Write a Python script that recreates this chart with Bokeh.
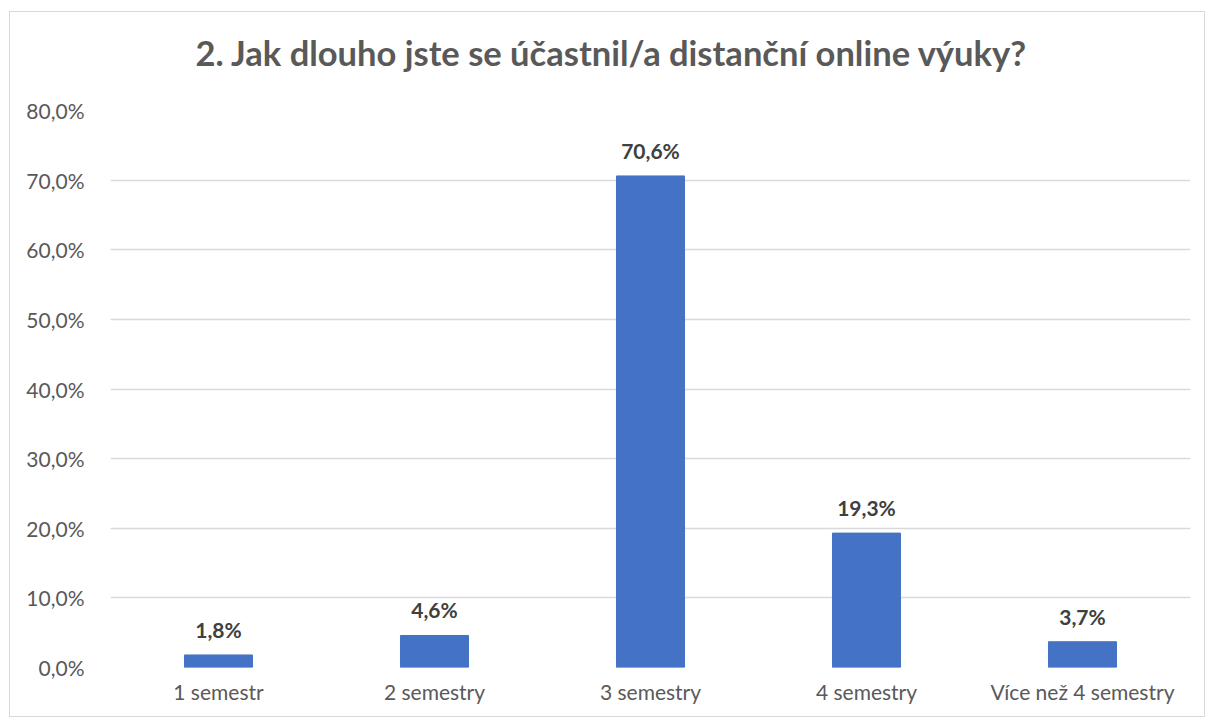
from bokeh.plotting import figure
from bokeh.models import ColumnDataSource, Range1d, CustomJSTickFormatter, SingleIntervalTicker, Title
from bokeh.core.properties import value
from bokeh.embed import file_html
from bokeh.resources import INLINE

categories = ["1 semestr", "2 semestry", "3 semestry", "4 semestry", "Více než 4 semestry"]
values = [1.8, 4.6, 70.6, 19.3, 3.7]
labels = ["1,8%", "4,6%", "70,6%", "19,3%", "3,7%"]
title_text = "2. Jak dlouho jste se účastnil/a distanční online výuky?"

FONT = "Lato"
GRAY = "#595959"

src = ColumnDataSource(dict(cat=categories, val=values, lab=labels))

p = figure(x_range=categories, y_range=Range1d(0, 80), width=1196, height=706,
           output_backend="svg", toolbar_location=None, title=title_text,
           min_border_left=100, min_border_right=16, min_border_top=98, min_border_bottom=51,
           styles={"border": "1px solid #d9d9d9", "margin-left": "9px", "margin-top": "11px"})

p.vbar(x="cat", top="val", width=0.315, source=src, color="#4472C4", line_color="#4472C4")
p.text(x="cat", y="val", text="lab", source=src, text_align="center", text_baseline="bottom",
       y_offset=-13, text_font=value(FONT), text_font_style="bold", text_font_size="21px",
       text_color="#404040")

p.title.text_font = FONT
p.title.text_font_size = "34.5px"
p.title.text_font_style = "bold"
p.title.text_color = GRAY
p.title.align = "left"
p.title.offset = 85
p.title.vertical_align = "top"
p.title.standoff = 36

# thin spacer between title and plot area
p.add_layout(Title(text=" ", text_font_size="1px", standoff=15), "above")

p.outline_line_color = None
p.xgrid.grid_line_color = None
p.ygrid.grid_line_color = "#d9d9d9"
p.ygrid.grid_line_width = 1.5
p.yaxis.ticker = SingleIntervalTicker(interval=10)
p.yaxis.formatter = CustomJSTickFormatter(code="return tick.toFixed(1).replace('.', ',') + '%';")

for ax in (p.xaxis[0], p.yaxis[0]):
    ax.axis_line_color = None
    ax.major_tick_line_color = None
    ax.minor_tick_line_color = None
    ax.major_tick_out = 0
    ax.major_tick_in = 0
    ax.major_label_text_font = FONT
    ax.major_label_text_font_size = "21px"
    ax.major_label_text_color = GRAY
p.yaxis.major_label_standoff = 22
p.xaxis.major_label_standoff = 11

open("out.html", "w").write(file_html(p, INLINE))
